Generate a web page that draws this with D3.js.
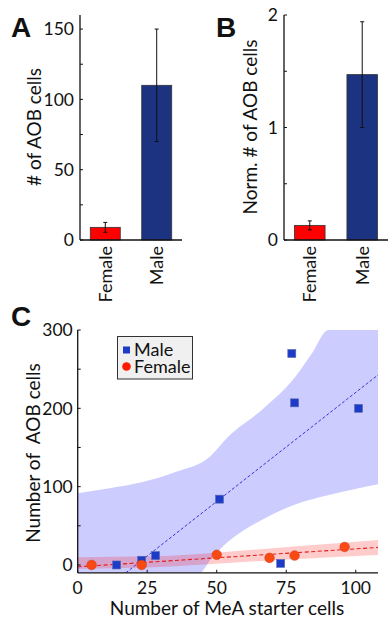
<!DOCTYPE html>
<html>
<head>
<meta charset="utf-8">
<script src="https://cdn.jsdelivr.net/npm/d3@7"></script>
<style>
  body { margin: 0; background: #fff; }
  text { font-family: Lato, "Open Sans", sans-serif; fill: #111; }
</style>
</head>
<body>
<div id="chart"></div>
<script>
// Data =====================================================
var sexes = ["Female", "Male"];
var aobMean = [9, 110];
var aobSem = [3.5, 40];
var normMean = [0.13, 1.47];
var normSem = [0.04, 0.47];
var barColors = ["#ff0000", "#1b3380"];

var maleX = [14, 23, 28, 51, 77, 78, 101, 73];
var maleY = [0, 6, 12, 84, 270, 207, 200, 2];
var femaleX = [5, 23, 50, 69, 78, 96];
var femaleY = [0, 0, 13, 9, 12, 23];

// fit lines and confidence bands as [x, y]
var maleFit = [[17.3, -10], [108, 242.6]];
var femaleFit = [[0, -2.3], [108, 22.4]];
var maleUpper = [[0, 91.5], [11.4, 98], [23.4, 106], [35.4, 119], [47.4, 138], [54.2, 164], [66.2, 198], [78.2, 240], [84.2, 270], [90.2, 300], [108, 300]];
var maleLower = [[0, -10], [43.8, -10], [48, 8], [54.2, 30], [60, 45], [66, 57], [78, 77], [90, 89], [108, 103]];
var femaleUpper = [[0, 10], [27, 11], [54, 17], [81, 24.5], [108, 32]];
var femaleLower = [[0, -5], [27, -3], [54, 2.5], [81, 8], [108, 12.8]];

var yTicksA = [0, 25, 50, 75, 100, 125, 150];
var yLabelsA = [0, 50, 100, 150];
var yTicksB = [0, 0.5, 1, 1.5, 2];
var yLabelsB = [0, 1, 2];
var xTicksC = [0, 25, 50, 75, 100];
var yTicksC = [0, 50, 100, 150, 200, 250, 300];
var yLabelsC = [0, 100, 200, 300];
// ===========================================================

var svg = d3.select("#chart").append("svg")
    .attr("width", 388).attr("height", 620)
    .style("background", "#fff");

// Bar panels ================================================
function barPanel(letter, x0, x1, ymax, means, sems, ticks, labels, ylabel, labelX, letterX) {
    var x = d3.scaleBand().domain(sexes).range([x0, x1]).paddingInner(0.417).paddingOuter(0.2);
    var y = d3.scaleLinear().domain([0, ymax]).range([240, 15]);
    var g = svg.append("g");

    g.selectAll("rect.bar").data(sexes).enter().append("rect")
        .attr("x", function(d){ return x(d); })
        .attr("y", function(d, i){ return y(means[i]); })
        .attr("width", x.bandwidth())
        .attr("height", function(d, i){ return y(0) - y(means[i]); })
        .attr("fill", function(d, i){ return barColors[i]; })
        .attr("stroke", "#333").attr("stroke-width", 0.8);

    // error bars
    sexes.forEach(function(d, i){
        var cx = x(d) + x.bandwidth() / 2;
        var lo = y(means[i] - sems[i]), hi = y(means[i] + sems[i]);
        g.append("line").attr("x1", cx).attr("x2", cx).attr("y1", lo).attr("y2", hi)
            .attr("stroke", "#111").attr("stroke-width", 1);
        [lo, hi].forEach(function(yy){
            g.append("line").attr("x1", cx - 2).attr("x2", cx + 2).attr("y1", yy).attr("y2", yy)
                .attr("stroke", "#111").attr("stroke-width", 1);
        });
        g.append("text")
            .attr("transform", "translate(" + cx + ",246) rotate(-90)")
            .attr("text-anchor", "end").attr("dy", "0.36em")
            .style("font-size", "18px").text(d);
    });

    // axes
    g.append("line").attr("x1", x0).attr("x2", x0).attr("y1", 15).attr("y2", 240)
        .attr("stroke", "#111").attr("stroke-width", 1.3);
    g.append("line").attr("x1", x0).attr("x2", x1).attr("y1", 240).attr("y2", 240)
        .attr("stroke", "#111").attr("stroke-width", 1.3);
    g.selectAll("line.tk").data(ticks).enter().append("line")
        .attr("x1", x0).attr("x2", x0 + 3)
        .attr("y1", function(d){ return y(d); }).attr("y2", function(d){ return y(d); })
        .attr("stroke", "#111");
    g.selectAll("text.tl").data(labels).enter().append("text")
        .attr("x", x0 - 6).attr("y", function(d){ return y(d); })
        .attr("dy", "0.36em").attr("text-anchor", "end")
        .style("font-size", "17.5px").text(function(d){ return d; });

    g.append("text")
        .attr("transform", "translate(" + labelX + ",127) rotate(-90)")
        .attr("text-anchor", "middle")
        .style("font-size", "19px").text(ylabel);
    g.append("text").attr("x", letterX).attr("y", 37)
        .style("font-size", "28px").style("font-weight", "bold")
        .style("font-family", "Arial, 'Liberation Sans', sans-serif").text(letter);
}

barPanel("A", 80, 182, 160, aobMean, aobSem, yTicksA, yLabelsA, "# of AOB cells", 41, 11);
barPanel("B", 284, 388, 2, normMean, normSem, yTicksB, yLabelsB, "Norm. # of AOB cells", 257, 216);

// Scatter panel =============================================
var xC = d3.scaleLinear().domain([0, 108]).range([77.7, 378]);
var yC = d3.scaleLinear().domain([-10, 300]).range([572.8, 330]);
var gC = svg.append("g");

gC.append("clipPath").attr("id", "clipC").append("rect")
    .attr("x", xC(0)).attr("y", yC(300))
    .attr("width", xC(108) - xC(0)).attr("height", yC(-10) - yC(300));

var plot = gC.append("g").attr("clip-path", "url(#clipC)");
var edge = d3.line().x(function(d){ return xC(d[0]); }).y(function(d){ return yC(d[1]); })
    .curve(d3.curveMonotoneX);

// upper edge left to right, then lower edge right to left
function bandPath(upper, lower) {
    var back = edge(lower.slice().reverse());
    return edge(upper) + "L" + back.slice(1) + "Z";
}

plot.append("path").attr("d", bandPath(maleUpper, maleLower))
    .attr("fill", "#0000ff").attr("fill-opacity", 0.2);
plot.append("path").attr("d", bandPath(femaleUpper, femaleLower))
    .attr("fill", "#ff0000").attr("fill-opacity", 0.2);

var straight = d3.line().x(function(d){ return xC(d[0]); }).y(function(d){ return yC(d[1]); });
plot.append("path").attr("d", straight(maleFit))
    .attr("fill", "none").attr("stroke", "#3434d8").attr("stroke-width", 1).attr("stroke-dasharray", "3,2");
plot.append("path").attr("d", straight(femaleFit))
    .attr("fill", "none").attr("stroke", "#e02020").attr("stroke-width", 1.1).attr("stroke-dasharray", "4,2.5");

var sq = 8;
gC.selectAll("rect.male").data(maleX).enter().append("rect")
    .attr("x", function(d){ return xC(d) - sq / 2; })
    .attr("y", function(d, i){ return yC(maleY[i]) - sq / 2; })
    .attr("width", sq).attr("height", sq)
    .attr("fill", "#1c3cc8").attr("stroke", "#5a6ab0").attr("stroke-width", 0.6);
gC.selectAll("circle.female").data(femaleX).enter().append("circle")
    .attr("cx", function(d){ return xC(d); })
    .attr("cy", function(d, i){ return yC(femaleY[i]); })
    .attr("r", 4.8)
    .attr("fill", "#fa4a14").attr("stroke", "#d04020").attr("stroke-width", 0.6);

// axes C
gC.append("line").attr("x1", xC(0)).attr("x2", xC(0)).attr("y1", yC(300)).attr("y2", yC(-10))
    .attr("stroke", "#111").attr("stroke-width", 1.3);
gC.append("line").attr("x1", xC(0)).attr("x2", xC(108)).attr("y1", yC(-10)).attr("y2", yC(-10))
    .attr("stroke", "#111").attr("stroke-width", 1.3);
gC.selectAll("line.ty").data(yTicksC).enter().append("line")
    .attr("x1", xC(0)).attr("x2", xC(0) + 3)
    .attr("y1", function(d){ return yC(d); }).attr("y2", function(d){ return yC(d); })
    .attr("stroke", "#111");
gC.selectAll("line.tx").data(xTicksC).enter().append("line")
    .attr("x1", function(d){ return xC(d); }).attr("x2", function(d){ return xC(d); })
    .attr("y1", yC(-10)).attr("y2", yC(-10) - 3)
    .attr("stroke", "#111");
gC.selectAll("text.ly").data(yLabelsC).enter().append("text")
    .attr("x", xC(0) - 5).attr("y", function(d){ return yC(d); })
    .attr("dy", "0.36em").attr("text-anchor", "end")
    .style("font-size", "17.5px").text(function(d){ return d; });
gC.selectAll("text.lx").data(xTicksC).enter().append("text")
    .attr("x", function(d){ return xC(d); }).attr("y", 594)
    .attr("text-anchor", "middle")
    .style("font-size", "17.5px").text(function(d){ return d; });

gC.append("text").attr("x", 227).attr("y", 615).attr("text-anchor", "middle")
    .style("font-size", "19px").text("Number of MeA starter cells");
gC.append("text")
    .attr("transform", "translate(40,453) rotate(-90)")
    .attr("text-anchor", "middle")
    .style("font-size", "19px").style("white-space", "pre").text("Number of  AOB cells");
gC.append("text").attr("x", 11).attr("y", 326)
    .style("font-size", "28px").style("font-weight", "bold")
    .style("font-family", "Arial, 'Liberation Sans', sans-serif").text("C");

// legend
var lg = gC.append("g");
lg.append("rect").attr("x", 117.5).attr("y", 336.5).attr("width", 75).attr("height", 42.5)
    .attr("fill", "#f0f0f0").attr("stroke", "#333").attr("stroke-width", 1);
lg.append("rect").attr("x", 123).attr("y", 346.5).attr("width", 7).attr("height", 7)
    .attr("fill", "#1c3cc8");
lg.append("circle").attr("cx", 126.5).attr("cy", 366.5).attr("r", 4.3)
    .attr("fill", "#ff1a00");
lg.append("text").attr("x", 134).attr("y", 356).style("font-size", "18px").text("Male");
lg.append("text").attr("x", 134).attr("y", 373).style("font-size", "18px").text("Female");
</script>
</body>
</html>
